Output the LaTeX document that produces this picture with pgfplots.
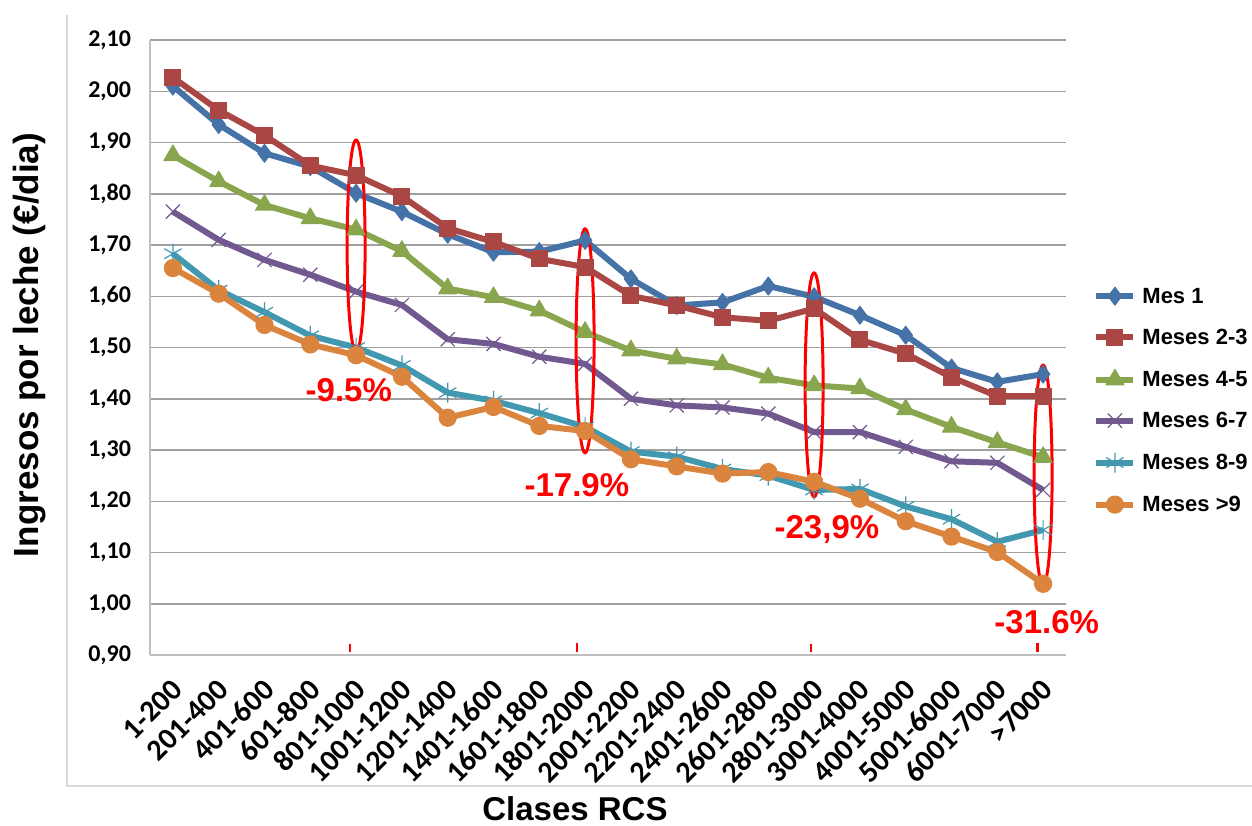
\documentclass[border=0pt]{standalone}
\usepackage{pgfplots}
\pgfplotsset{compat=1.18}
\usepackage{fontspec}
\setmainfont{Liberation Sans}
\newfontfamily\carlito{Carlito}
\usetikzlibrary{plotmarks}
\definecolor{cA}{HTML}{4572A7}
\definecolor{cB}{HTML}{AA4643}
\definecolor{cC}{HTML}{89A54E}
\definecolor{cD}{HTML}{71588F}
\definecolor{cE}{HTML}{4198AF}
\definecolor{cF}{HTML}{DB843D}
\definecolor{gridc}{HTML}{A0A0A0}
\definecolor{axisc}{HTML}{BFBFBF}
\definecolor{borderc}{HTML}{D9D9D9}
\begin{document}
\begin{tikzpicture}
\useasboundingbox (0,0) rectangle (626pt,-412.5pt);
\draw[color=borderc, line width=0.75pt] (33.5pt,-7.5pt) -- (33.5pt,-393pt) -- (626pt,-393pt);
\begin{axis}[
  at={(75pt,-327.5pt)}, anchor=south west,
  scale only axis, width=458pt, height=307.5pt,
  xmin=-0.5, xmax=19.5, ymin=0.9, ymax=2.1,
  axis x line*=bottom, axis y line*=left,
  axis line style={-, color=axisc, line width=0.75pt},
  xtick={0,...,19},
  xticklabels={1-200,201-400,401-600,601-800,801-1000,1001-1200,1201-1400,1401-1600,1601-1800,1801-2000,2001-2200,2201-2400,2401-2600,2601-2800,2801-3000,3001-4000,4001-5000,5001-6000,6001-7000,>7000},
  ytick={0.9,1.0,1.1,1.2,1.3,1.4,1.5,1.6,1.7,1.8,1.9,2.0,2.1},
  /pgf/number format/assume math mode=true,
  y tick label style={/pgf/number format/fixed, /pgf/number format/fixed zerofill, /pgf/number format/precision=2, /pgf/number format/use comma, xshift=-6pt, font=\carlito\bfseries\fontsize{12}{14}\selectfont},
  x tick label style={rotate=45, anchor=east, xshift=-5.5pt, yshift=-12pt, font=\carlito\bfseries\fontsize{15}{17}\selectfont},
  xtick style={draw=none}, ytick style={draw=none},
  ymajorgrids, major grid style={color=gridc, line width=0.75pt},
  legend style={at={(1.0295,0.414)}, anchor=west, draw=none, fill=none,
    font=\bfseries\fontsize{11}{13}\selectfont, inner sep=0pt, row sep=11.5pt,
    nodes={inner sep=0pt, text height=8pt, text depth=1pt},
    /tikz/every odd column/.append style={column sep=3pt}},
  legend cell align=left,
  legend image code/.code={\draw[mark repeat=2, mark phase=2, #1] plot coordinates {(0pt,0pt) (9.25pt,0pt) (18.5pt,0pt)};},
  clip=false,
]
\addplot[color=cA, line width=3pt, line join=round, mark=diamond*, mark size=4.5pt, mark options={solid, fill=cA, line width=0.5pt}] coordinates {
(0,2.010) (1,1.935) (2,1.879) (3,1.853) (4,1.801) (5,1.765) (6,1.721) (7,1.686) (8,1.687) (9,1.709)
(10,1.634) (11,1.582) (12,1.588) (13,1.620) (14,1.599) (15,1.563) (16,1.524) (17,1.460) (18,1.433) (19,1.448)};
\addlegendentry{Mes 1}
\addplot[color=cB, line width=3pt, line join=round, mark=square*, mark size=4pt, mark options={solid, fill=cB, line width=0.5pt}] coordinates {
(0,2.027) (1,1.963) (2,1.914) (3,1.855) (4,1.836) (5,1.795) (6,1.733) (7,1.706) (8,1.673) (9,1.657)
(10,1.601) (11,1.582) (12,1.559) (13,1.552) (14,1.576) (15,1.515) (16,1.488) (17,1.442) (18,1.405) (19,1.405)};
\addlegendentry{Meses 2-3}
\addplot[color=cC, line width=3pt, line join=round, mark=triangle*, mark size=5.2pt, mark options={solid, fill=cC, line width=0.5pt}] coordinates {
(0,1.875) (1,1.824) (2,1.778) (3,1.752) (4,1.730) (5,1.688) (6,1.615) (7,1.598) (8,1.572) (9,1.530)
(10,1.494) (11,1.478) (12,1.467) (13,1.441) (14,1.426) (15,1.420) (16,1.379) (17,1.345) (18,1.315) (19,1.286)};
\addlegendentry{Meses 4-5}
\addplot[color=cD, line width=3pt, line join=round, mark=x, mark size=5pt, mark options={solid, line width=0.6pt}] coordinates {
(0,1.765) (1,1.710) (2,1.671) (3,1.642) (4,1.609) (5,1.583) (6,1.516) (7,1.507) (8,1.482) (9,1.468)
(10,1.400) (11,1.387) (12,1.383) (13,1.371) (14,1.335) (15,1.335) (16,1.306) (17,1.278) (18,1.275) (19,1.222)};
\addlegendentry{Meses 6-7}
\addplot[color=cE, line width=3pt, line join=round, mark=asterisk, mark size=5pt, mark options={solid, line width=0.6pt}] coordinates {
(0,1.683) (1,1.612) (2,1.569) (3,1.523) (4,1.500) (5,1.465) (6,1.412) (7,1.396) (8,1.372) (9,1.345)
(10,1.297) (11,1.287) (12,1.263) (13,1.250) (14,1.222) (15,1.224) (16,1.190) (17,1.165) (18,1.121) (19,1.144)};
\addlegendentry{Meses 8-9}
\addplot[color=cF, line width=3pt, line join=round, mark=*, mark size=4.3pt, mark options={solid, fill=cF, line width=0.5pt}] coordinates {
(0,1.655) (1,1.605) (2,1.544) (3,1.506) (4,1.485) (5,1.443) (6,1.363) (7,1.384) (8,1.347) (9,1.337)
(10,1.282) (11,1.268) (12,1.254) (13,1.257) (14,1.238) (15,1.205) (16,1.161) (17,1.131) (18,1.101) (19,1.039)};
\addlegendentry{Meses >9}
% red highlights
\draw[red, line width=1.5pt] (axis cs:4,1.698) ellipse [x radius=4.5pt, y radius=53pt];
\draw[red, line width=1.5pt] (axis cs:9,1.513) ellipse [x radius=4.5pt, y radius=56pt];
\draw[red, line width=1.5pt] (axis cs:14,1.427) ellipse [x radius=4.5pt, y radius=56pt];
\draw[red, line width=1.5pt] (axis cs:19,1.251) ellipse [x radius=4.5pt, y radius=55pt];
\draw[red, line width=1.2pt] (axis cs:3.87,0.905) -- (axis cs:3.87,0.921);
\draw[red, line width=1.2pt] (axis cs:8.82,0.905) -- (axis cs:8.82,0.923);
\draw[red, line width=1.2pt] (axis cs:13.93,0.905) -- (axis cs:13.93,0.921);
\draw[red, line width=1.2pt] (axis cs:18.88,0.905) -- (axis cs:18.88,0.923);
\node[text=red, font=\bfseries\fontsize{16.5}{18}\selectfont] at (axis cs:3.84,1.417) {-9.5\%};
\node[text=red, font=\bfseries\fontsize{16.5}{18}\selectfont] at (axis cs:8.82,1.232) {-17.9\%};
\node[text=red, font=\bfseries\fontsize{16.5}{18}\selectfont] at (axis cs:14.28,1.144) {-23,9\%};
\node[text=red, font=\bfseries\fontsize{16.5}{18}\selectfont] at (axis cs:19.08,0.964) {-31.6\%};
\end{axis}
\node[rotate=90, font=\bfseries\fontsize{17.5}{20}\selectfont] at (15pt,-172.5pt) {Ingresos por leche (€/dia)};
\node[font=\bfseries\fontsize{16.5}{19}\selectfont] at (287.5pt,-404.5pt) {Clases RCS};
\end{tikzpicture}
\end{document}
